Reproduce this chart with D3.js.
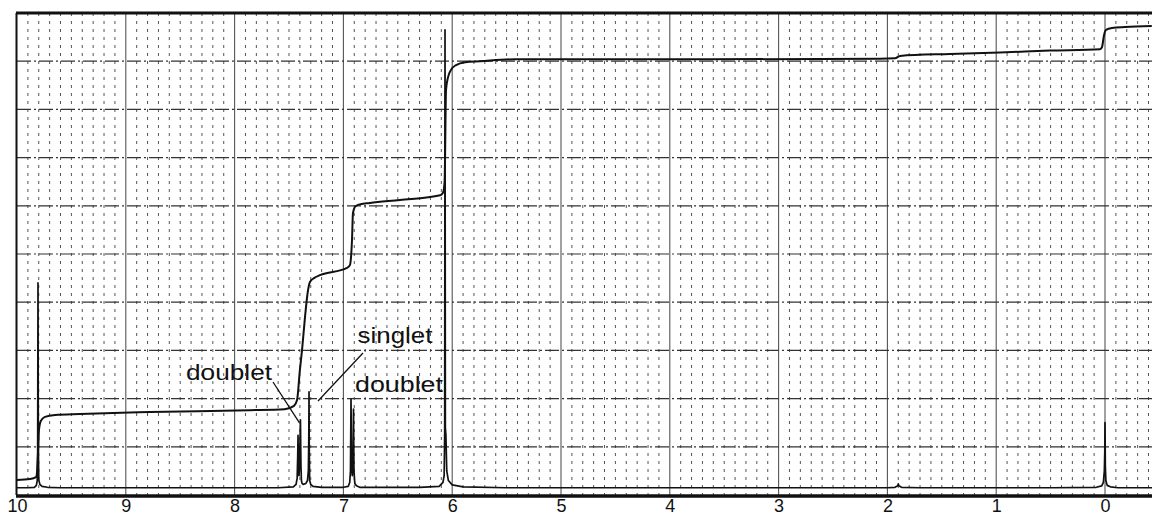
<!DOCTYPE html>
<html>
<head>
<meta charset="utf-8">
<script src="https://cdn.jsdelivr.net/npm/d3@7"></script>
<style>
  html, body { margin: 0; padding: 0; background: #fff; }
  svg { display: block; }
  text { font-family: "Liberation Sans", Arial, Helvetica, sans-serif; fill: #111; }
</style>
</head>
<body>
<svg id="chart" width="1152" height="517"></svg>
<script>
// ---------- data ----------
// x axis: chemical shift (ppm), tick labels
const tickValues = [10, 9, 8, 7, 6, 5, 4, 3, 2, 1, 0];

// spectrum trace: [ppm, intensity (% of chart height)]
const spectrumPpm = [10.0, 9.90, 9.84, 9.822, 9.814, 9.810, 9.807, 9.804, 9.800, 9.79, 9.77, 9.72, 9.6, 8.5, 7.6, 7.46, 7.435, 7.425, 7.420, 7.417, 7.414, 7.408, 7.403, 7.395, 7.390, 7.386, 7.380, 7.37, 7.345, 7.330, 7.322, 7.318, 7.316, 7.314, 7.310, 7.30, 7.28, 7.2, 7.0, 6.955, 6.942, 6.935, 6.930, 6.925, 6.918, 6.911, 6.907, 6.903, 6.895, 6.88, 6.85, 6.3, 6.12, 6.085, 6.074, 6.069, 6.066, 6.063, 6.058, 6.050, 6.035, 6.00, 5.9, 5.5, 3.0, 2.0, 1.93, 1.905, 1.90, 1.895, 1.87, 1.7, 0.5, 0.08, 0.03, 0.015, 0.006, 0.002, 0.000, -0.003, -0.008, -0.02, -0.05, -0.12, -0.45];
const spectrumVal = [1.5, 1.5, 1.6, 2.0, 3.0, 9.0, 44.0, 10.0, 3.2, 2.2, 1.8, 1.6, 1.5, 1.5, 1.5, 1.7, 2.2, 3.5, 8.0, 12.4, 6.0, 4.0, 6.5, 15.6, 6.0, 3.0, 2.4, 2.2, 2.4, 3.0, 5.0, 12.0, 21.4, 10.0, 3.0, 2.2, 1.8, 1.6, 1.6, 1.8, 2.6, 5.0, 19.9, 6.0, 4.0, 9.0, 17.8, 5.0, 2.4, 1.9, 1.6, 1.6, 1.8, 2.6, 4.0, 13.0, 96.5, 14.0, 12.5, 5.0, 3.0, 2.1, 1.7, 1.5, 1.5, 1.5, 1.6, 1.9, 2.3, 1.9, 1.6, 1.5, 1.5, 1.6, 1.9, 2.6, 5.0, 9.0, 15.0, 6.0, 3.0, 2.0, 1.7, 1.5, 1.5];

// integral trace: [ppm, integral level (% of chart height)]
const integralPpm = [10.0, 9.88, 9.825, 9.815, 9.807, 9.798, 9.78, 9.743, 9.65, 9.42, 8.78, 7.86, 7.54, 7.454, 7.426, 7.40, 7.38, 7.353, 7.325, 7.307, 7.27, 7.215, 6.967, 6.94, 6.921, 6.912, 6.893, 6.866, 6.756, 6.48, 6.11, 6.085, 6.070, 6.066, 6.057, 6.038, 6.011, 5.965, 5.88, 5.744, 5.42, 4.64, 3.72, 2.07, 1.93, 1.884, 1.425, 0.965, 0.506, 0.046, 0.028, 0.009, -0.009, -0.064, -0.184, -0.43];
const integralVal = [3.1, 3.3, 3.7, 5.0, 8.5, 13.5, 15.4, 16.2, 16.6, 16.8, 17.2, 17.6, 17.8, 18.5, 19.7, 25.9, 30.1, 36.9, 42.5, 44.2, 45.0, 45.6, 47.1, 47.7, 52.9, 58.5, 59.8, 60.2, 60.6, 61.2, 62.2, 62.7, 65.0, 69.5, 84.0, 86.7, 88.2, 89.2, 89.8, 90.0, 90.4, 90.4, 90.4, 90.5, 90.6, 91.1, 91.5, 91.8, 92.2, 92.5, 92.9, 95.4, 96.5, 96.9, 97.1, 97.3];

// annotation texts
const annotationTexts = ["doublet", "singlet", "doublet"];

// ---------- layout ----------
const svg = d3.select("#chart");
const W = 1152, H = 517;
const x = d3.scaleLinear().domain([10, 0]).range([17, 1105]);
const y = d3.scaleLinear().domain([0, 100]).range([495, 13]);

// minor vertical dotted grid (every 0.1 ppm)
const minor = d3.range(-4, 100).map(i => i / 10).filter(v => Math.abs(v - Math.round(v)) > 1e-6 && x(v) < W);
svg.append("g").selectAll("line").data(minor).join("line")
  .attr("x1", d => x(d)).attr("x2", d => x(d))
  .attr("y1", y(100)).attr("y2", y(0))
  .attr("stroke", "#555").attr("stroke-width", 1)
  .attr("stroke-dasharray", "3,5");

// major vertical solid grid
svg.append("g").selectAll("line").data(tickValues.filter(v => v !== 10)).join("line")
  .attr("x1", d => x(d)).attr("x2", d => x(d))
  .attr("y1", y(100)).attr("y2", y(0))
  .attr("stroke", "#555").attr("stroke-width", 1.1);

// major horizontal dash-dot grid
const hLines = d3.range(10, 100, 10);
svg.append("g").selectAll("line").data(hLines).join("line")
  .attr("x1", x(10)).attr("x2", W)
  .attr("y1", d => y(d)).attr("y2", d => y(d))
  .attr("stroke", "#333").attr("stroke-width", 1.2)
  .attr("stroke-dasharray", "14,3,2,3");

// frame: top, left
svg.append("line").attr("x1", x(10) - 1).attr("x2", W).attr("y1", y(100)).attr("y2", y(100))
  .attr("stroke", "#111").attr("stroke-width", 3);
svg.append("line").attr("x1", x(10) - 0.5).attr("x2", x(10) - 0.5).attr("y1", y(100)).attr("y2", y(0))
  .attr("stroke", "#111").attr("stroke-width", 2);

// spectrum trace
const spec = spectrumPpm.map((p, i) => [p, spectrumVal[i]]);
svg.append("path").datum(spec)
  .attr("fill", "none").attr("stroke", "#111").attr("stroke-width", 1.7)
  .attr("stroke-linejoin", "round")
  .attr("d", d3.line().x(d => x(d[0])).y(d => y(d[1])));

// integral trace
const integ = integralPpm.map((p, i) => [p, integralVal[i]]);
svg.append("path").datum(integ)
  .attr("fill", "none").attr("stroke", "#111").attr("stroke-width", 2)
  .attr("stroke-linejoin", "round")
  .attr("d", d3.line().curve(d3.curveMonotoneX).x(d => x(d[0])).y(d => y(d[1])));

// bottom axis
const axis = d3.axisBottom(x).tickValues(tickValues).tickSize(0).tickPadding(4).tickFormat(d3.format("d"));
const gx = svg.append("g").attr("transform", `translate(0,${y(0)})`).call(axis);
gx.select(".domain").remove();
gx.selectAll("text").style("font-size", "18px").style("font-family", "'Liberation Sans', Arial, sans-serif").attr("fill", "#111").attr("dy", "0.71em");
svg.append("line").attr("x1", x(10) - 1).attr("x2", W).attr("y1", y(0) + 1).attr("y2", y(0) + 1)
  .attr("stroke", "#111").attr("stroke-width", 3.5);

// annotations
const ann = svg.append("g");
function label(txt, cx, baseY, len) {
  ann.append("text").attr("x", cx).attr("y", baseY).attr("text-anchor", "middle")
    .style("font-size", "22px").attr("textLength", len).attr("lengthAdjust", "spacingAndGlyphs").text(txt);
}
label(annotationTexts[0], 229, 380, 86);
label(annotationTexts[1], 395, 343, 75);
label(annotationTexts[2], 399, 392, 88);
// leader lines
ann.append("line").attr("x1", 273).attr("y1", 382).attr("x2", x(7.405)).attr("y2", y(15))
  .attr("stroke", "#111").attr("stroke-width", 1.3);
ann.append("line").attr("x1", 363).attr("y1", 353).attr("x2", 318).attr("y2", y(19.5))
  .attr("stroke", "#111").attr("stroke-width", 1.3);
</script>
</body>
</html>
